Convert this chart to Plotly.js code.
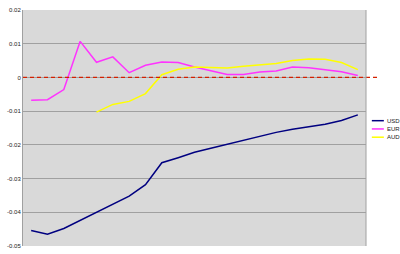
<!DOCTYPE html>
<html><head><meta charset="utf-8">
<script src="https://cdn.plot.ly/plotly-3.0.1.min.js"></script>
<style>html,body{margin:0;padding:0;background:#fff}#c{width:400px;height:254px}</style>
</head><body><div id="c"></div>
<script>
const periods = [1,2,3,4,5,6,7,8,9,10,11,12,13,14,15,16,17,18,19,20,21];
const usd = [-0.0454,-0.0465,-0.0448,-0.0424,-0.0402,-0.0377,-0.0352,-0.0318,-0.0253,-0.0238,-0.0222,-0.0210,-0.0198,-0.0185,-0.0173,-0.0163,-0.0154,-0.0147,-0.0139,-0.0128,-0.0111];
const eur = [-0.0068,-0.0066,-0.0036,0.0107,0.0045,0.0061,0.0014,0.0036,0.0046,0.0044,0.0031,0.0021,0.0009,0.0009,0.0016,0.0019,0.0031,0.0029,0.0024,0.0017,0.0006];
const aud = [null,null,null,null,-0.0103,-0.0080,-0.0071,-0.0048,0.0008,0.0024,0.0031,0.0029,0.0028,0.0033,0.0038,0.0041,0.0050,0.0055,0.0054,0.0044,0.0023];
const seriesNames = ['USD','EUR','AUD'];
const seriesColors = ['#000080','#ff33ff','#ffff00'];
const yTicks = [0.02,0.01,0,-0.01,-0.02,-0.03,-0.04,-0.05];
const yTickText = ['0.02','0.01','0','-0.01','-0.02','-0.03','-0.04','-0.05'];

const data = [usd, eur, aud].map((v,i)=>({
  x: periods, y: v, type:'scatter', mode:'lines', name: seriesNames[i],
  line:{color: seriesColors[i], width:1.5}, connectgaps:false, showlegend:false
}));

const shapes = [
  {type:'line', xref:'paper', yref:'y', x0:0, x1:1.035, y0:0, y1:0, line:{color:'#d42000', width:1.3, dash:'4px,3px'}},
  {type:'line', xref:'paper', yref:'paper', x0:1, x1:1, y0:0, y1:1, line:{color:'#a0a0a0', width:1}}
];
const annotations = [];
seriesNames.forEach((n,i)=>{
  const yp = 0.531 - i*0.035;
  shapes.push({type:'line', xref:'paper', yref:'paper', x0:1.017, x1:1.052, y0:yp, y1:yp, line:{color:seriesColors[i], width:1.5}});
  annotations.push({xref:'paper', yref:'paper', x:1.055, y:yp, text:n, showarrow:false, xanchor:'left', yanchor:'middle', font:{family:'Liberation Sans, Arial', size:6, color:'#222'}});
});

const layout = {
  width:400, height:254,
  margin:{l:23, r:34, t:10, b:8, pad:0},
  paper_bgcolor:'#ffffff', plot_bgcolor:'#d9d9d9',
  showlegend:false,
  xaxis:{range:[0.5,21.5], showticklabels:false, showgrid:false, zeroline:false, ticks:'', showline:false},
  yaxis:{range:[-0.05,0.02], tickvals:yTicks, ticktext:yTickText, showgrid:true, gridcolor:'#a0a0a0', gridwidth:1,
    zeroline:false, showline:true, linecolor:'#a0a0a0', linewidth:1, ticks:'',
    tickfont:{family:'Liberation Sans, Arial', size:6, color:'#222'}},
  shapes: shapes, annotations: annotations
};
Plotly.newPlot('c', data, layout, {displayModeBar:false, staticPlot:true});
</script></body></html>
